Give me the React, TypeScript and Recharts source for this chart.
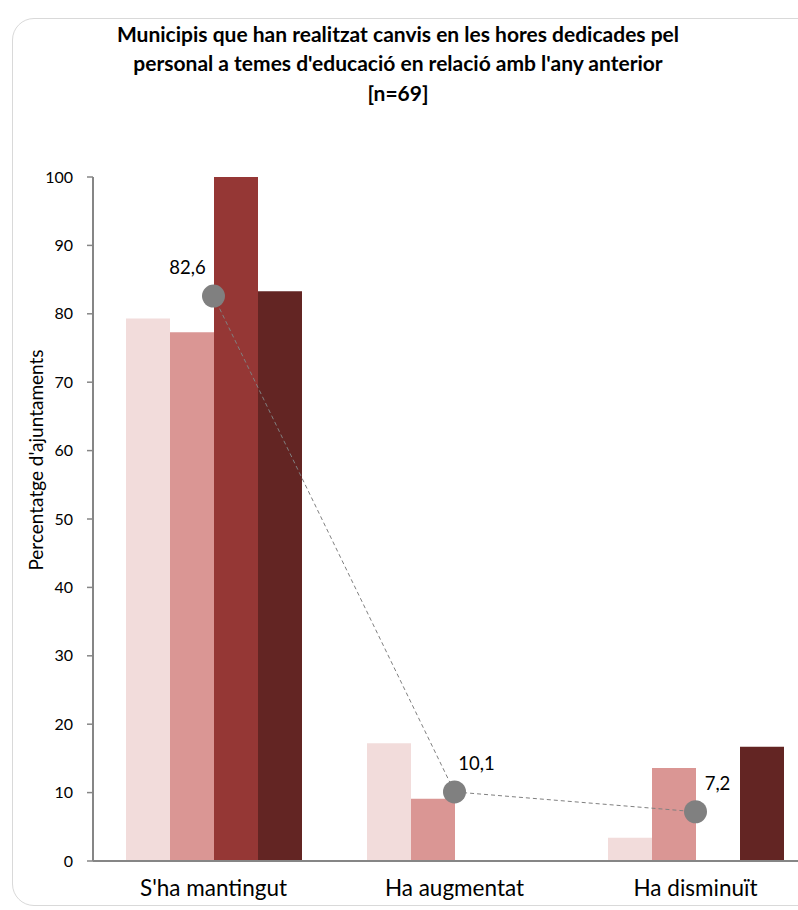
import React from 'react';
import { ComposedChart, Bar, Line, XAxis, YAxis, LabelList } from 'recharts';

const categories = ["S'ha mantingut", 'Ha augmentat', 'Ha disminuït'];
const serie1 = [79.3, 17.2, 3.4];
const serie2 = [77.3, 9.1, 13.6];
const serie3 = [100, 0, 0];
const serie4 = [83.3, 0, 16.7];
const totals = [82.6, 10.1, 7.2];
const yTicks = [0, 10, 20, 30, 40, 50, 60, 70, 80, 90, 100];

const titleLines = [
  'Municipis que han realitzat canvis en les hores dedicades pel',
  "personal a temes d'educació en relació amb l'any anterior",
  '[n=69]',
];

const data = categories.map((name, i) => ({
  name,
  s1: serie1[i],
  s2: serie2[i],
  s3: serie3[i],
  s4: serie4[i],
  total: totals[i],
}));

const FONT = 'Lato, "Open Sans", sans-serif';

// label of the gray dot: first one up-left, the others up-right
const DotLabel = (props: any) => {
  const { x, y, value, index } = props;
  const dx = index === 0 ? -26 : 22;
  return (
    <text x={x + dx} y={y - 29} textAnchor="middle" dominantBaseline="central"
      fontFamily={FONT} fontSize={18.5} fill="#000">
      {String(value).replace('.', ',')}
    </text>
  );
};

export default function App() {
  return (
    <div style={{ position: 'absolute', left: 0, top: 0, width: 798, height: 910, overflow: 'hidden', background: '#fff' }}>
      <div style={{ position: 'absolute', left: 12, top: 18, width: 840, height: 886, border: '1px solid #d9d9d9', borderRadius: 22 }} />
      <ComposedChart
        width={816}
        height={910}
        data={data}
        margin={{ top: 177, right: 0, bottom: 19, left: 0 }}
        barGap={0}
        style={{ position: 'absolute', left: 0, top: 0 }}
      >
        <text x={398} y={33} textAnchor="middle" dominantBaseline="central" fontFamily={FONT} fontWeight="bold" fontSize={21} fill="#000">
          {titleLines[0]}
        </text>
        <text x={398} y={62} textAnchor="middle" dominantBaseline="central" fontFamily={FONT} fontWeight="bold" fontSize={21} fill="#000">
          {titleLines[1]}
        </text>
        <text x={398} y={92} textAnchor="middle" dominantBaseline="central" fontFamily={FONT} fontWeight="bold" fontSize={21} fill="#000">
          {titleLines[2]}
        </text>
        <text x={35} y={460} textAnchor="middle" dominantBaseline="central" transform="rotate(-90 35 460)"
          fontFamily={FONT} fontSize={19} fill="#000">
          Percentatge d'ajuntaments
        </text>
        <XAxis
          dataKey="name"
          height={30}
          tickLine={false}
          axisLine={{ stroke: '#868686', strokeWidth: 2 }}
          tick={{ fontFamily: FONT, fontSize: 22.5, fill: '#000' }}
          tickMargin={13}
        />
        <YAxis
          width={93}
          domain={[0, 100]}
          ticks={yTicks}
          interval={0}
          axisLine={{ stroke: '#868686', strokeWidth: 2 }}
          tickLine={{ stroke: '#868686', strokeWidth: 1.5 }}
          tickSize={6}
          tickMargin={14}
          tick={{ fontFamily: FONT, fontSize: 16, fill: '#000' }}
        />
        <Bar dataKey="s1" fill="#f2dcdb" barSize={44} isAnimationActive={false} />
        <Bar dataKey="s2" fill="#da9694" barSize={44} isAnimationActive={false} />
        <Bar dataKey="s3" fill="#953735" barSize={44} isAnimationActive={false} />
        <Bar dataKey="s4" fill="#632523" barSize={44} isAnimationActive={false} />
        <Line
          dataKey="total"
          stroke="#808080"
          strokeWidth={1}
          strokeDasharray="4 3"
          dot={{ r: 11.5, fill: '#808080', stroke: 'none' }}
          activeDot={false}
          isAnimationActive={false}
        >
          <LabelList dataKey="total" content={DotLabel} />
        </Line>
      </ComposedChart>
    </div>
  );
}
